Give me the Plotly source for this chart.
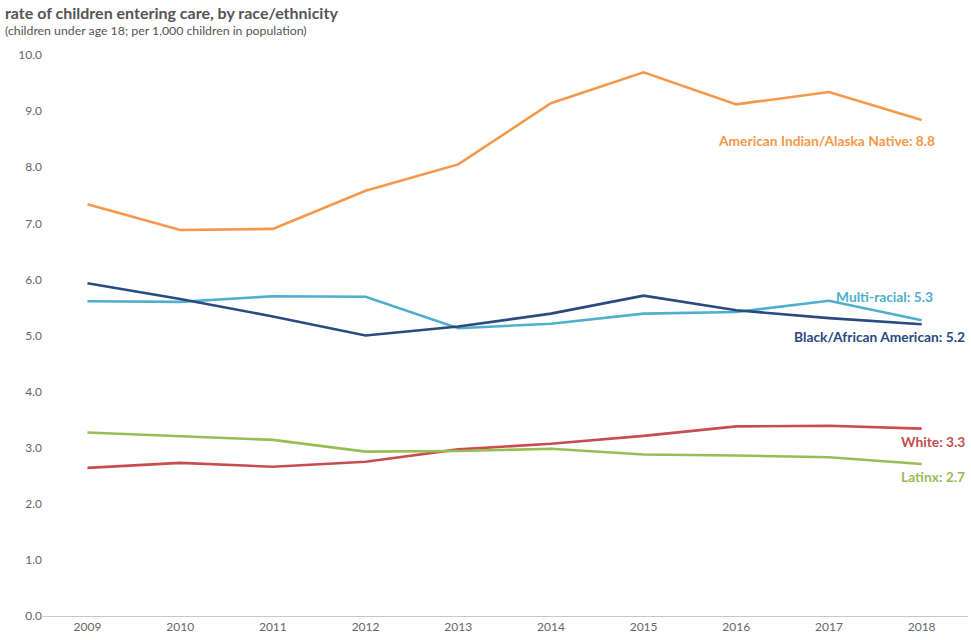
import plotly.graph_objects as go

years = [2009, 2010, 2011, 2012, 2013, 2014, 2015, 2016, 2017, 2018]

aian = [7.34, 6.88, 6.90, 7.58, 8.05, 9.14, 9.69, 9.12, 9.34, 8.84]
black = [5.93, 5.65, 5.34, 5.00, 5.16, 5.39, 5.71, 5.45, 5.31, 5.20]
multi = [5.61, 5.60, 5.70, 5.69, 5.13, 5.21, 5.39, 5.42, 5.62, 5.27]
white = [2.64, 2.73, 2.66, 2.75, 2.97, 3.07, 3.21, 3.38, 3.39, 3.34]
latinx = [3.27, 3.20, 3.14, 2.93, 2.94, 2.98, 2.88, 2.86, 2.83, 2.71]

y_ticks = [0, 1, 2, 3, 4, 5, 6, 7, 8, 9, 10]

# name, values, colour, label right edge (paper x shift), label y shift from 2018 point
series = [
    ("American Indian/Alaska Native", aian, "#F6984A", -31, -20),
    ("Multi-racial", multi, "#4FAFCC", -33, 24),
    ("Black/African American", black, "#2A4A80", -1, -12),
    ("White", white, "#C94C50", -1, -13),
    ("Latinx", latinx, "#97BD55", -1, -13),
]

fig = go.Figure()
for name, vals, col, dx, dy in series:
    fig.add_trace(go.Scatter(x=years, y=vals, mode="lines", name=name,
                             line=dict(color=col, width=2.6)))
    fig.add_annotation(x=1, y=vals[-1], xref="paper", yref="y",
                       text="<b>%s: %.1f</b>" % (name, vals[-1]),
                       showarrow=False, xanchor="right", yanchor="middle",
                       xshift=dx, yshift=dy,
                       font=dict(family="Lato", size=13.8, color=col))

fig.add_annotation(x=0, y=1, xref="paper", yref="paper", xshift=-40, yshift=43,
                   text="<b>rate of children entering care, by race/ethnicity</b>",
                   showarrow=False, xanchor="left", yanchor="middle",
                   font=dict(family="Lato", size=16, color="#555555"))
fig.add_annotation(x=0, y=1, xref="paper", yref="paper", xshift=-40, yshift=25,
                   text="(children under age 18; per 1,000 children in population)",
                   showarrow=False, xanchor="left", yanchor="middle",
                   font=dict(family="Lato", size=12.3, color="#555555"))

fig.update_layout(
    width=971, height=640,
    margin=dict(l=43, r=3, t=55, b=23.5),
    plot_bgcolor="white", paper_bgcolor="white",
    showlegend=False,
    font=dict(family="Lato", color="#666666", size=12),
    xaxis=dict(range=[2008.52, 2018.5], tickvals=years, showgrid=False,
               showline=True, linecolor="#c8c8c8", linewidth=1,
               ticks="", zeroline=False),
    yaxis=dict(range=[0, 10], tickvals=y_ticks,
               ticktext=["%.1f" % v for v in y_ticks],
               showgrid=False, zeroline=False, showline=False, ticks=""),
)

# drop the default page margin so the figure fills the window
fig.write_html("out.html", config={"displayModeBar": False},
               post_script="document.body.style.margin='0';"
                           "document.body.style.overflow='hidden';")
